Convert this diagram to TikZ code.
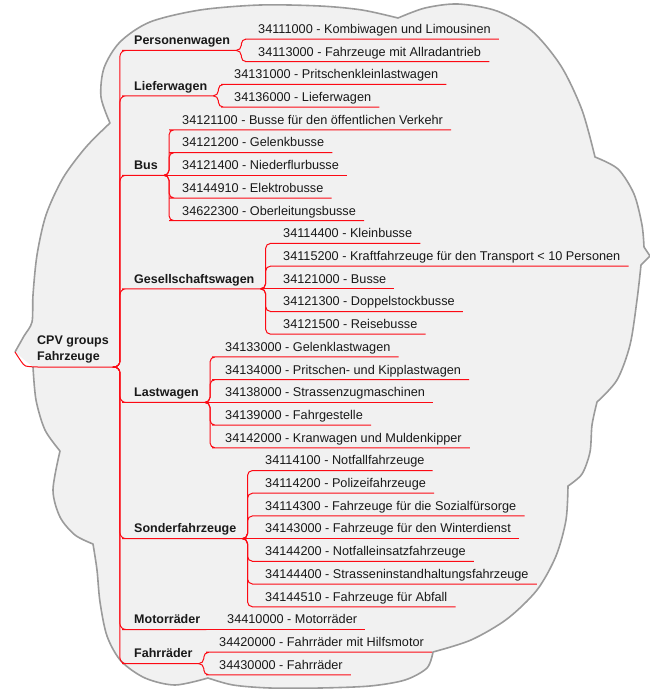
\documentclass[tikz,border=0pt]{standalone}
\usepackage{fontspec}
\setmainfont{Liberation Sans}
\usetikzlibrary{positioning}
\definecolor{CloudFill}{RGB}{241,241,241}
\definecolor{CloudEdge}{RGB}{155,155,155}
\definecolor{BranchRed}{RGB}{252,10,20}
\definecolor{MapText}{RGB}{25,25,25}
\newcommand{\mapfont}{\fontsize{12.5}{16}\selectfont}
\newcommand{\codefont}{\fontsize{12.7}{16}\selectfont}
% outline of the cloud, notch to notch
\newcommand{\cloudpath}{%
  plot[smooth] coordinates {(15,352) (24,336) (32,322) (33,295) (37,255) (46,215) (63,178) (86,147) (110,123)}
  -- plot[smooth] coordinates {(110,123) (101,97) (104,68) (120,42) (150,22) (200,10) (260,5) (320,6) (362,10) (398,18)}
  -- plot[smooth] coordinates {(398,18) (425,8) (458,4) (497,11) (532,31) (561,66) (582,110) (595,157)}
  -- plot[smooth] coordinates {(595,157) (618,169) (634,194) (642,225) (644,247)}
  -- (650,256)
  -- plot[smooth] coordinates {(641,265) (637,300) (630,345) (617,380) (597,402)}
  -- plot[smooth] coordinates {(597,402) (592,425) (590,452) (582,474) (568,486)}
  -- plot[smooth] coordinates {(568,486) (566,520) (556,556) (537,590) (507,619) (471,640) (433,652)}
  -- plot[smooth] coordinates {(433,652) (427,668) (405,680) (370,686) (320,688) (270,688) (233,685) (208,678)}
  -- plot[smooth] coordinates {(208,678) (175,685) (145,678) (121,661) (107,636) (100,602) (97,570) (93,544)}
  -- plot[smooth] coordinates {(93,544) (75,535) (60,517) (53,490) (60,451)}
  -- plot[smooth] coordinates {(60,451) (45,430) (36,400) (33,367)}}

\begin{document}
\begin{tikzpicture}[x=1pt,y=-1pt, every node/.style={font=\codefont, text=MapText}]
\tikzset{
  leaf/.style={anchor=south west, inner xsep=8pt, inner ysep=5.5pt, text height=9pt, text depth=0pt},
  group/.style={leaf, inner xsep=6pt, font=\mapfont\bfseries},
  link/.style={BranchRed, line width=1pt, rounded corners=5pt},
  trunk/.style={link, rounded corners=6pt},
  cloudline/.style={CloudEdge, line width=1.6pt, line join=round}
}
  \useasboundingbox (0,0) rectangle (650,689);
  \fill[CloudFill] \cloudpath -- cycle;
  \draw[cloudline] \cloudpath;

  \node[anchor=south west, align=left, inner xsep=4pt, inner ysep=3.5pt, font=\mapfont\bfseries] (root) at (33,367) {CPV groups\\Fahrzeuge};
  \coordinate (tip) at (15,352);

  \node[group] (pw) at (128,50.4) {Personenwagen};
  \node[group] (lw) at (128,95.8) {Lieferwagen};
  \node[group] (bus) at (128,175.3) {Bus};
  \node[group] (gw) at (128,288.8) {Gesellschaftswagen};
  \node[group] (law) at (128,402.4) {Lastwagen};
  \node[group] (sf) at (128,538.6) {Sonderfahrzeuge};
  \node[group] (mr) at (128,629.5) {Motorräder};
  \node[group] (fr) at (128,663.6) {Fahrräder};

  \node[leaf] (pw1) at (250,39.0) {34111000 - Kombiwagen und Limousinen};
  \node[leaf] (pw2) at (250,61.7) {34113000 - Fahrzeuge mit Allradantrieb};
  \node[leaf] (lw1) at (226,84.4) {34131000 - Pritschenkleinlastwagen};
  \node[leaf] (lw2) at (226,107.1) {34136000 - Lieferwagen};
  \node[leaf] (bus1) at (174,129.8) {34121100 - Busse für den öffentlichen Verkehr};
  \node[leaf] (bus2) at (174,152.6) {34121200 - Gelenkbusse};
  \node[leaf] (bus3) at (174,175.3) {34121400 - Niederflurbusse};
  \node[leaf] (bus4) at (174,198.0) {34144910 - Elektrobusse};
  \node[leaf] (bus5) at (174,220.7) {34622300 - Oberleitungsbusse};
  \node[leaf] (gw1) at (275,243.4) {34114400 - Kleinbusse};
  \node[leaf] (gw2) at (275,266.1) {34115200 - Kraftfahrzeuge für den Transport < 10 Personen};
  \node[leaf] (gw3) at (275,288.8) {34121000 - Busse};
  \node[leaf] (gw4) at (275,311.5) {34121300 - Doppelstockbusse};
  \node[leaf] (gw5) at (275,334.2) {34121500 - Reisebusse};
  \node[leaf] (law1) at (217,356.9) {34133000 - Gelenklastwagen};
  \node[leaf] (law2) at (217,379.7) {34134000 - Pritschen- und Kipplastwagen};
  \node[leaf] (law3) at (217,402.4) {34138000 - Strassenzugmaschinen};
  \node[leaf] (law4) at (217,425.1) {34139000 - Fahrgestelle};
  \node[leaf] (law5) at (217,447.8) {34142000 - Kranwagen und Muldenkipper};
  \node[leaf] (sf1) at (257,470.5) {34114100 - Notfallfahrzeuge};
  \node[leaf] (sf2) at (257,493.2) {34114200 - Polizeifahrzeuge};
  \node[leaf] (sf3) at (257,515.9) {34114300 - Fahrzeuge für die Sozialfürsorge};
  \node[leaf] (sf4) at (257,538.6) {34143000 - Fahrzeuge für den Winterdienst};
  \node[leaf] (sf5) at (257,561.3) {34144200 - Notfalleinsatzfahrzeuge};
  \node[leaf] (sf6) at (257,584.0) {34144400 - Strasseninstandhaltungsfahrzeuge};
  \node[leaf] (sf7) at (257,606.8) {34144510 - Fahrzeuge für Abfall};
  \node[leaf] (mr1) at (219,629.5) {34410000 - Motorräder};
  \node[leaf] (fr1) at (211,652.2) {34420000 - Fahrräder mit Hilfsmotor};
  \node[leaf] (fr2) at (211,674.9) {34430000 - Fahrräder};

  % root to groups
  \draw[link] (tip) .. controls (24,366) .. (root.south west) -- (root.south east);
  \draw[trunk] (root.south east) -- ++(7,0) |- (pw.south west) -- (pw.south east);
  \draw[trunk] (root.south east) -- ++(7,0) |- (lw.south west) -- (lw.south east);
  \draw[trunk] (root.south east) -- ++(7,0) |- (bus.south west) -- (bus.south east);
  \draw[trunk] (root.south east) -- ++(7,0) |- (gw.south west) -- (gw.south east);
  \draw[trunk] (root.south east) -- ++(7,0) |- (law.south west) -- (law.south east);
  \draw[trunk] (root.south east) -- ++(7,0) |- (sf.south west) -- (sf.south east);
  \draw[trunk] (root.south east) -- ++(7,0) |- (mr.south west) -- (mr.south east);
  \draw[trunk] (root.south east) -- ++(7,0) |- (fr.south west) -- (fr.south east);

  % groups to codes
  \draw[link] (pw.south east) -- ++(5,0) |- (pw1.south west) -- (pw1.south east);
  \draw[link] (pw.south east) -- ++(5,0) |- (pw2.south west) -- (pw2.south east);
  \draw[link] (lw.south east) -- ++(5,0) |- (lw1.south west) -- (lw1.south east);
  \draw[link] (lw.south east) -- ++(5,0) |- (lw2.south west) -- (lw2.south east);
  \draw[link] (bus.south east) -- ++(5,0) |- (bus1.south west) -- (bus1.south east);
  \draw[link] (bus.south east) -- ++(5,0) |- (bus2.south west) -- (bus2.south east);
  \draw[link] (bus.south east) -- (bus3.south west) -- (bus3.south east);
  \draw[link] (bus.south east) -- ++(5,0) |- (bus4.south west) -- (bus4.south east);
  \draw[link] (bus.south east) -- ++(5,0) |- (bus5.south west) -- (bus5.south east);
  \draw[link] (gw.south east) -- ++(5,0) |- (gw1.south west) -- (gw1.south east);
  \draw[link] (gw.south east) -- ++(5,0) |- (gw2.south west) -- (gw2.south east);
  \draw[link] (gw.south east) -- (gw3.south west) -- (gw3.south east);
  \draw[link] (gw.south east) -- ++(5,0) |- (gw4.south west) -- (gw4.south east);
  \draw[link] (gw.south east) -- ++(5,0) |- (gw5.south west) -- (gw5.south east);
  \draw[link] (law.south east) -- ++(5,0) |- (law1.south west) -- (law1.south east);
  \draw[link] (law.south east) -- ++(5,0) |- (law2.south west) -- (law2.south east);
  \draw[link] (law.south east) -- (law3.south west) -- (law3.south east);
  \draw[link] (law.south east) -- ++(5,0) |- (law4.south west) -- (law4.south east);
  \draw[link] (law.south east) -- ++(5,0) |- (law5.south west) -- (law5.south east);
  \draw[link] (sf.south east) -- ++(5,0) |- (sf1.south west) -- (sf1.south east);
  \draw[link] (sf.south east) -- ++(5,0) |- (sf2.south west) -- (sf2.south east);
  \draw[link] (sf.south east) -- ++(5,0) |- (sf3.south west) -- (sf3.south east);
  \draw[link] (sf.south east) -- (sf4.south west) -- (sf4.south east);
  \draw[link] (sf.south east) -- ++(5,0) |- (sf5.south west) -- (sf5.south east);
  \draw[link] (sf.south east) -- ++(5,0) |- (sf6.south west) -- (sf6.south east);
  \draw[link] (sf.south east) -- ++(5,0) |- (sf7.south west) -- (sf7.south east);
  \draw[link] (mr.south east) -- (mr1.south west) -- (mr1.south east);
  \draw[link] (fr.south east) -- ++(5,0) |- (fr1.south west) -- (fr1.south east);
  \draw[link] (fr.south east) -- ++(5,0) |- (fr2.south west) -- (fr2.south east);
\end{tikzpicture}
\end{document}
